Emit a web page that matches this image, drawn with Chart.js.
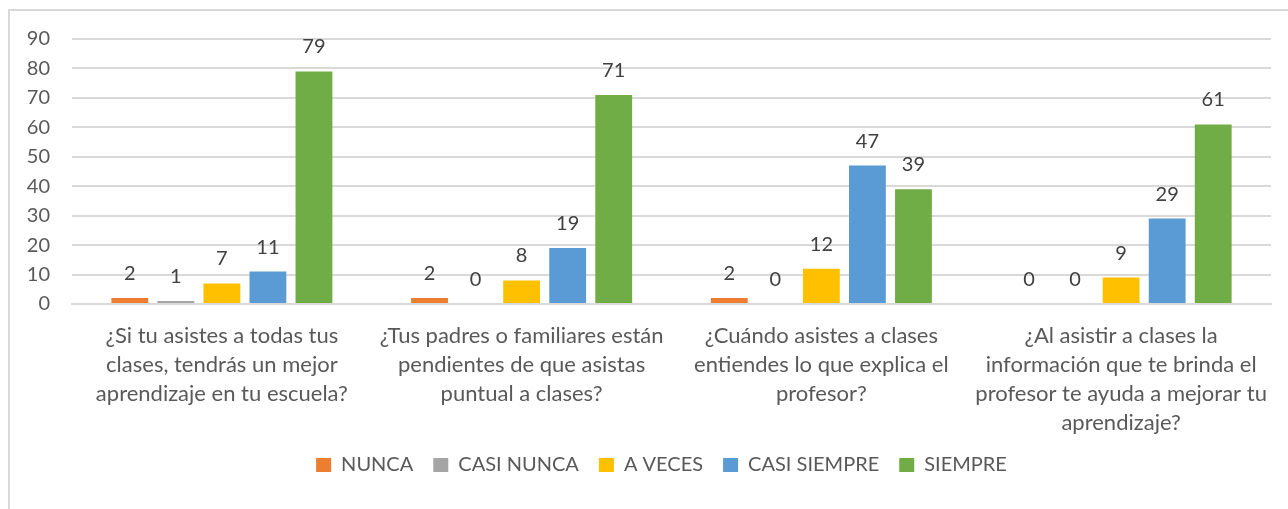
<!DOCTYPE html>
<html>
  <head>
    <title>Asistencia a clases</title>
    <meta charset="UTF-8">
    <style>
      body {
        margin: 0;
        background: #ffffff;
        overflow: hidden;
      }
      .frame {
        position: absolute;
        left: 8px;
        top: 9px;
        width: 1400px;
        height: 700px;
        border: 2px solid #d9d9d9;
      }
      .canvas {
        position: absolute;
        left: 0;
        top: 0;
        width: 1288px;
        height: 509px;
      }
    </style>
  </head>
  <body>
    <div class="frame"></div>
    <div class="canvas">
      <canvas id="canvas" width="1288" height="509"></canvas>
    </div>
    <script src="https://cdn.jsdelivr.net/npm/chart.js@4.4.1/dist/chart.umd.min.js"></script>
    <script>
    // categories (one question per group, already wrapped into lines)
    var preguntas = [
        ["¿Si tu asistes a todas tus", "clases, tendrás un mejor", "aprendizaje en tu escuela?"],
        ["¿Tus padres o familiares están", "pendientes de que asistas", "puntual a clases?"],
        ["¿Cuándo asistes a clases", "entiendes lo que explica el", "profesor?"],
        ["¿Al asistir a clases la", "información que te brinda el", "profesor te ayuda a mejorar tu", "aprendizaje?"]
    ];

    // answers per series
    var nunca = [2, 2, 2, 0];
    var casiNunca = [1, 0, 0, 0];
    var aVeces = [7, 8, 12, 9];
    var casiSiempre = [11, 19, 47, 29];
    var siempre = [79, 71, 39, 61];

    // y axis ticks
    var yMin = 0;
    var yMax = 90;
    var yStep = 10;

    var font = "Lato, 'Liberation Sans', sans-serif";
    var textColor = '#595959';

    // draw the value above every bar (no datalabels plugin available offline)
    var valueLabels = {
        id: 'valueLabels',
        afterDatasetsDraw: function(chart) {
            var ctx = chart.ctx;
            ctx.save();
            ctx.font = '20px ' + font;
            ctx.fillStyle = '#404040';
            ctx.textAlign = 'center';
            ctx.textBaseline = 'alphabetic';
            chart.data.datasets.forEach(function(ds, i) {
                var meta = chart.getDatasetMeta(i);
                meta.data.forEach(function(bar, j) {
                    ctx.fillText(String(ds.data[j]), bar.x, bar.y - 18);
                });
            });
            ctx.restore();
        }
    };

    // the legend sits a bit right of the canvas centre in the original
    var legendShift = {
        id: 'legendShift',
        afterLayout: function(chart) {
            chart.legend.left += 26;
            chart.legend.right += 26;
        }
    };

    function serie(label, color, data) {
        return {
            label: label,
            backgroundColor: color,
            borderWidth: 0,
            data: data,
            categoryPercentage: 0.768,
            barPercentage: 0.80
        };
    }

    var ctx = document.getElementById('canvas').getContext('2d');
    var chart = new Chart(ctx, {
        type: 'bar',
        data: {
            labels: preguntas,
            datasets: [
                serie('NUNCA', '#ED7D31', nunca),
                serie('CASI NUNCA', '#A5A5A5', casiNunca),
                serie('A VECES', '#FFC000', aVeces),
                serie('CASI SIEMPRE', '#5B9BD5', casiSiempre),
                serie('SIEMPRE', '#70AD47', siempre)
            ]
        },
        plugins: [valueLabels, legendShift],
        options: {
            responsive: false,
            animation: false,
            layout: {
                padding: { top: 39, left: 0, right: 17, bottom: 24 }
            },
            plugins: {
                legend: {
                    position: 'bottom',
                    labels: {
                        boxWidth: 15,
                        boxHeight: 14,
                        padding: 20,
                        color: textColor,
                        font: { family: font, size: 20 }
                    }
                },
                tooltip: { enabled: false }
            },
            scales: {
                x: {
                    grid: { display: false },
                    border: { color: '#d9d9d9', width: 2 },
                    ticks: {
                        color: textColor,
                        maxRotation: 0,
                        autoSkip: false,
                        padding: 9,
                        font: { family: font, size: 22, lineHeight: 1.32 }
                    },
                    afterFit: function(scale) {
                        scale.height = 131;
                    }
                },
                y: {
                    min: yMin,
                    max: yMax,
                    grid: { color: '#d9d9d9', lineWidth: 2, drawTicks: false },
                    border: { display: false },
                    ticks: {
                        stepSize: yStep,
                        color: textColor,
                        padding: 22,
                        font: { family: font, size: 20 }
                    },
                    afterFit: function(scale) {
                        scale.width = 72;
                    }
                }
            }
        }
    });
    </script>
  </body>
</html>
